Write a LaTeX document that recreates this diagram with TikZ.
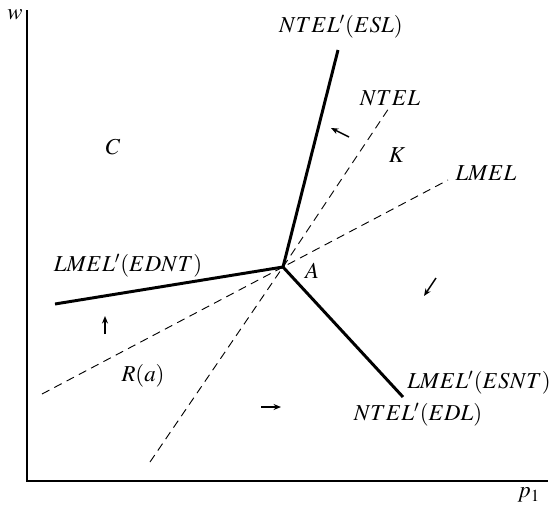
\documentclass[tikz,border=0pt]{standalone}
\usepackage{mathptmx}
\usepackage{tikz}
\usetikzlibrary{arrows.meta,positioning,calc}

\begin{document}
\begin{tikzpicture}[
    x=0.54pt, y=-0.54pt,
    font=\fontsize{12.3}{14}\selectfont,
    axisline/.style={line width=0.8pt},
    locus/.style={line width=1.6pt},
    ridge/.style={dash pattern=on 4.5pt off 3pt, line width=0.5pt},
    drift/.style={-{Stealth[length=4pt,width=3.2pt]}, line width=0.8pt},
    lbl/.style={inner sep=1pt}
]
    \useasboundingbox (0,0) rectangle (554,505);

    % Axes
    \coordinate (O) at (27,481);
    \coordinate (ytop) at (27,10);
    \coordinate (xend) at (548,481);
    \draw[axisline] (ytop) -- (O) -- (xend);
    \node[lbl] (w) at (15,15) {$w$};
    \node[lbl] (p1) at (529,495) {$p_1$};

    % Intersection
    \coordinate (A) at (283,267);
    \node[lbl] (Alab) at (312,271) {$A$};

    % Dashed loci
    \coordinate (ntelT) at (389,108);
    \coordinate (ntelB) at (150,462);
    \coordinate (lmelT) at (448,180);
    \coordinate (lmelB) at (42,394);
    \draw[ridge] (ntelB) -- (A) -- (ntelT);
    \draw[ridge] (lmelB) -- (A) -- (lmelT);
    \node[lbl] (ntel) at (390,98) {$NTEL$};
    \node[lbl] (lmel) at (486,173) {$LMEL$};

    % Solid loci
    \coordinate (eslEnd) at (338,50);
    \coordinate (edntEnd) at (55,304);
    \coordinate (esntEnd) at (403,397);
    \draw[locus] (A) -- (eslEnd);
    \draw[locus] (A) -- (edntEnd);
    \draw[locus] (A) -- (esntEnd);
    \node[lbl] (esl) at (341,27) {$NTEL'(ESL)$};
    \node[lbl] (ednt) at (128,266) {$LMEL'(EDNT)$};
    \node[lbl] (esnt) at (479,383) {$LMEL'(ESNT)$};
    \node[lbl] (edl) at (418,415) {$NTEL'(EDL)$};

    % Regions
    \node[lbl] (C) at (113,147) {$C$};
    \node[lbl] (K) at (397,155) {$K$};
    \node[lbl] (Ra) at (143,376) {$R(a)$};

    % Adjustment arrows
    \coordinate (d1s) at (349,137);
    \coordinate (d1e) at (331,128);
    \coordinate (d2s) at (105,334);
    \coordinate (d2e) at (105,316);
    \coordinate (d3s) at (261,407);
    \coordinate (d3e) at (281,407);
    \coordinate (d4s) at (436,278);
    \coordinate (d4e) at (424,296);
    \draw[drift] (d1s) -- (d1e);
    \draw[drift] (d2s) -- (d2e);
    \draw[drift] (d3s) -- (d3e);
    \draw[drift] (d4s) -- (d4e);

\end{tikzpicture}
\end{document}
